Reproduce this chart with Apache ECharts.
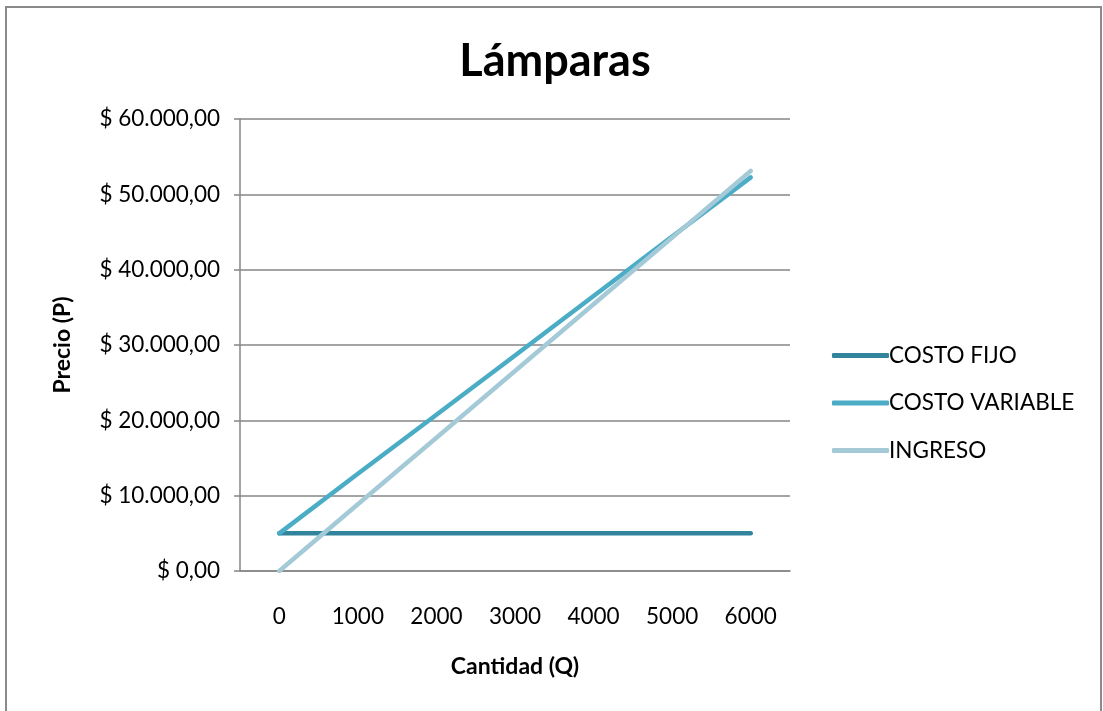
<!DOCTYPE html>
<html>
<head>
<meta charset="utf-8">
<script src="https://cdn.jsdelivr.net/npm/echarts@6/dist/echarts.min.js"></script>
<style>
html,body{margin:0;padding:0;background:#fff;}
#c{width:1103px;height:711px;}
</style>
</head>
<body>
<div id="c"></div>
<script>
const categories = ['0','1000','2000','3000','4000','5000','6000'];
const costoFijo = [5000, 5000, 5000, 5000, 5000, 5000, 5000];
const costoVariable = [5000, 12900, 20750, 28600, 36500, 44400, 52250];
const ingreso = [0, 8850, 17700, 26550, 35400, 44250, 53100];
const yTicks = [0, 10000, 20000, 30000, 40000, 50000, 60000];

function fmt(v){
  const s = Math.round(v).toString().replace(/\B(?=(\d{3})+(?!\d))/g, '.');
  return '$ ' + s + ',00';
}
const FONT = 'Lato, "Open Sans", sans-serif';
const chart = echarts.init(document.getElementById('c'), null, {renderer:'canvas'});
const lineStyle = (c) => ({width:4.5, color:c, cap:'round', join:'round'});
chart.setOption({
  animation:false,
  backgroundColor:'#fff',
  graphic:[{type:'rect', shape:{x:6, y:7, width:1095, height:720}, style:{fill:'none', stroke:'#8a8a8a', lineWidth:2}, silent:true}],
  title:{text:'Lámparas', left:550, top:34, textAlign:'center',
    textStyle:{fontFamily:FONT, fontWeight:'bold', fontSize:45, color:'#000'}},
  grid:{left:240, top:119, right:313, bottom:140},
  legend:{orient:'vertical', left:827, top:339, itemGap:24.5, itemWidth:57, itemHeight:5,
    icon:'roundRect',
    textStyle:{fontFamily:FONT, fontSize:22.5, color:'#000', padding:[0,0,0,-5]},
    data:['COSTO FIJO','COSTO VARIABLE','INGRESO']},
  xAxis:{type:'category', data:categories, boundaryGap:true,
    name:'Cantidad (Q)', nameLocation:'middle', nameGap:84,
    nameTextStyle:{fontFamily:FONT, fontWeight:'bold', fontSize:23, color:'#000'},
    axisLine:{lineStyle:{color:'#868686', width:1.5}},
    axisTick:{show:false},
    axisLabel:{fontFamily:FONT, fontSize:22.5, color:'#000', margin:34},
    splitLine:{show:false}},
  yAxis:{type:'value', min:0, max:60000, interval:10000,
    name:'Precio (P)', nameLocation:'middle', nameGap:166, nameRotate:90,
    nameTextStyle:{fontFamily:FONT, fontWeight:'bold', fontSize:23, color:'#000'},
    axisLine:{show:true, lineStyle:{color:'#868686', width:1.5}},
    axisTick:{show:true, length:6, lineStyle:{color:'#868686', width:1.5}},
    axisLabel:{fontFamily:FONT, fontSize:22.5, color:'#000', margin:20, formatter:(v)=>fmt(v)},
    splitLine:{show:true, lineStyle:{color:'#868686', width:1.5}}},
  series:[
    {name:'COSTO FIJO', type:'line', data:costoFijo, showSymbol:false, symbol:'none', color:'#31849B', lineStyle:lineStyle('#31849B')},
    {name:'COSTO VARIABLE', type:'line', data:costoVariable, showSymbol:false, symbol:'none', color:'#4BACC6', lineStyle:lineStyle('#4BACC6')},
    {name:'INGRESO', type:'line', data:ingreso, showSymbol:false, symbol:'none', color:'#A5CAD7', lineStyle:lineStyle('#A5CAD7')}
  ]
});
</script>
</body>
</html>
